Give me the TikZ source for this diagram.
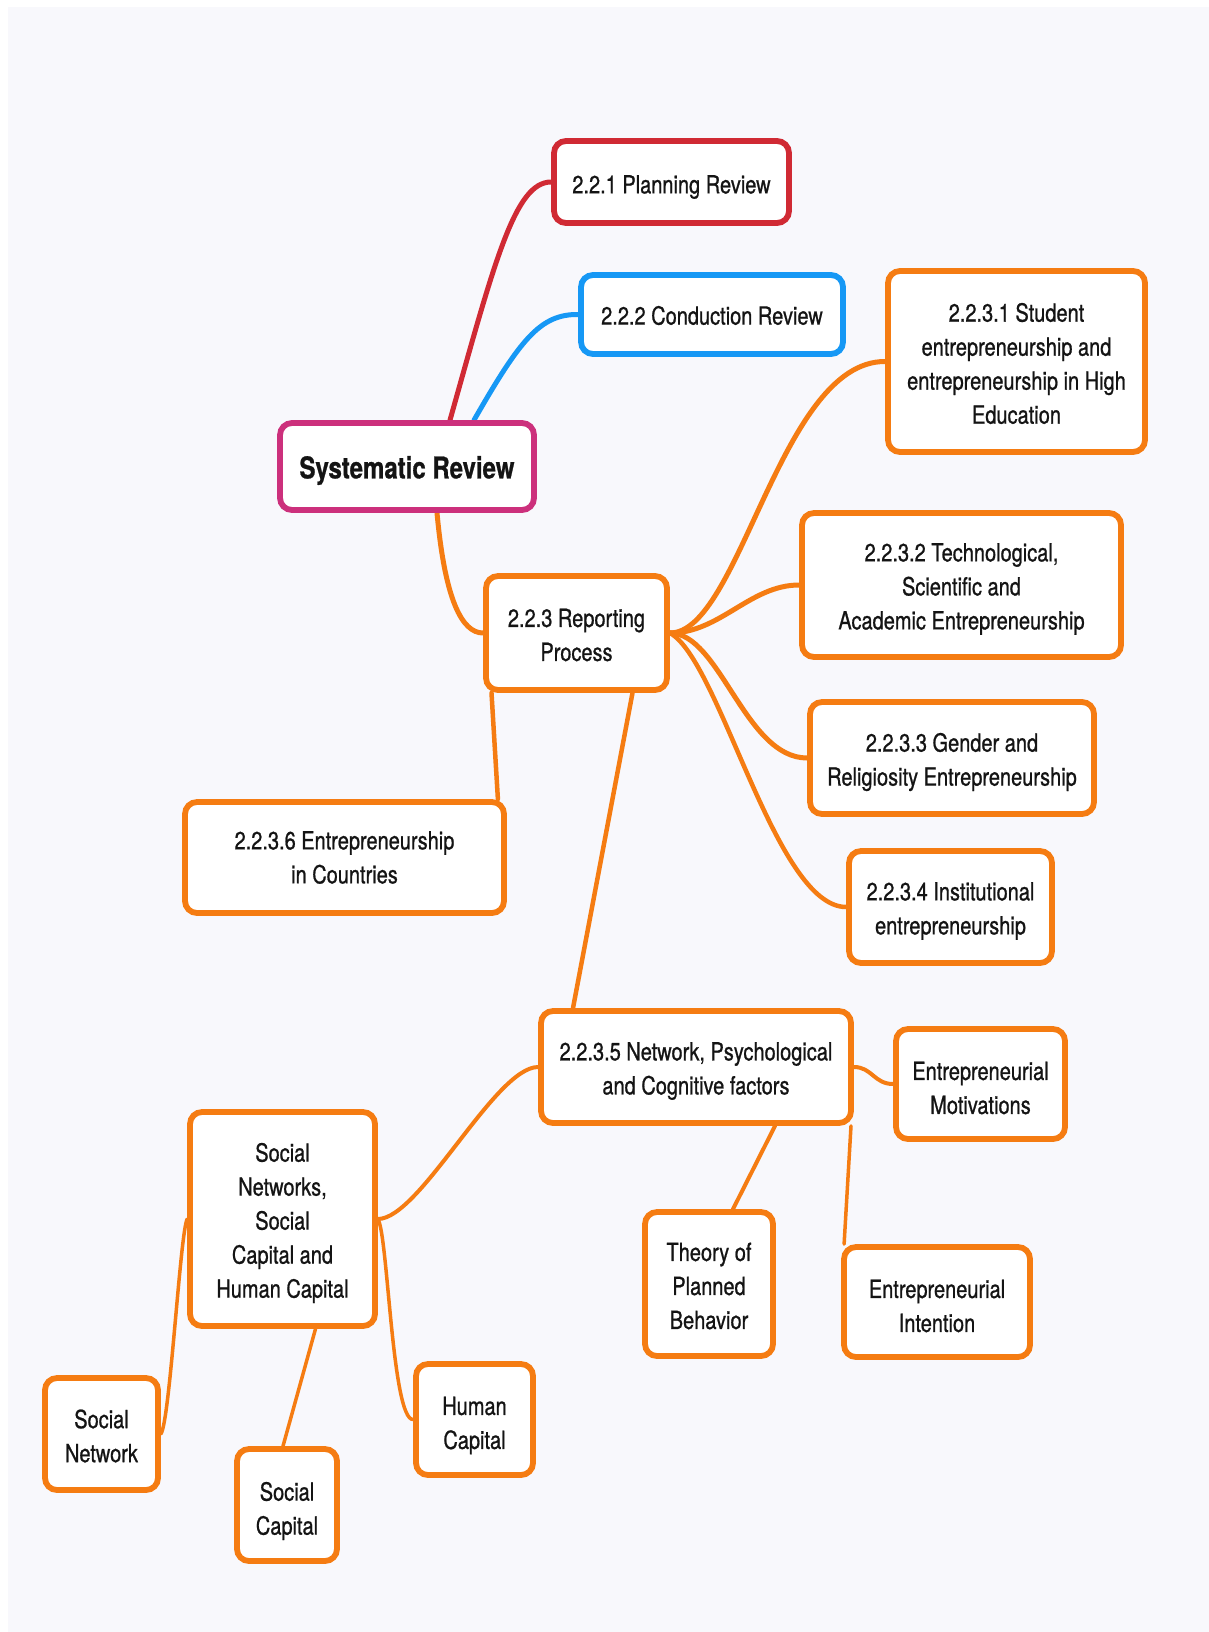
\documentclass[tikz,border=0pt]{standalone}
\usepackage{fontspec}
\setmainfont{TeX Gyre Heros}[FakeStretch=0.8,FakeBold=0.8]
\usetikzlibrary{calc}
\definecolor{bgc}{RGB}{248,248,252}
\definecolor{org}{RGB}{245,124,18}
\definecolor{redc}{RGB}{208,42,52}
\definecolor{bluec}{RGB}{22,152,245}
\definecolor{magc}{RGB}{204,48,124}
\definecolor{txt}{RGB}{20,20,20}
\pgfdeclarelayer{back}
\pgfdeclarelayer{bg}
\pgfsetlayers{back,bg,main}
\tikzset{
  box/.style={draw=org, fill=white, line width=5.8pt, rounded corners=12pt, inner sep=0pt},
  lbl/.style={align=center, text=txt, inner sep=0pt, font=\fontsize{25}{34}\selectfont},
  conn/.style={draw=org, line width=5pt, line cap=round},
  thinconn/.style={draw=org, line width=3.5pt, line cap=round},
}
\begin{document}
\begin{tikzpicture}[x=1pt,y=-1pt]
\useasboundingbox (0,0) rectangle (1209,1632);
\begin{pgfonlayer}{back}
\fill[white] (0,0) rectangle (1209,1632);
\fill[bgc] (8,7) rectangle (1209,1632);
\end{pgfonlayer}

% boxes
\node[box, draw=redc, minimum width=235, minimum height=82] (plan) at (671.5,182) {};
\node[box, draw=bluec, minimum width=262, minimum height=79] (cond) at (712,314.5) {};
\node[box, draw=magc, minimum width=254, minimum height=87] (sys) at (407,466.5) {};
\node[box, minimum width=181, minimum height=114] (rp) at (576.5,633) {};
\node[box, minimum width=257, minimum height=181] (c1) at (1016.5,361.5) {};
\node[box, minimum width=319, minimum height=144] (c2) at (961.5,585) {};
\node[box, minimum width=284, minimum height=112] (c3) at (952,758) {};
\node[box, minimum width=203, minimum height=112] (c4) at (950.5,907) {};
\node[box, minimum width=319, minimum height=111] (c6) at (344.5,857.5) {};
\node[box, minimum width=310, minimum height=112] (c5) at (696,1067) {};
\node[box, minimum width=169, minimum height=110] (em) at (980.5,1084) {};
\node[box, minimum width=185, minimum height=214] (sn) at (282.5,1219) {};
\node[box, minimum width=128, minimum height=144] (tpb) at (709,1284) {};
\node[box, minimum width=186, minimum height=110] (ei) at (937,1302) {};
\node[box, minimum width=113, minimum height=112] (snet) at (101.5,1434) {};
\node[box, minimum width=100, minimum height=112] (scap) at (287,1505) {};
\node[box, minimum width=117, minimum height=111] (hc) at (474.5,1419.5) {};

% texts
\node[lbl] (planT) at ([yshift=-5pt]plan.center) {2.2.1 Planning Review};
\node[lbl] (condT) at ([yshift=-1pt]cond.center) {2.2.2 Conduction Review};
\node[lbl, font=\fontsize{30}{36}\bfseries\selectfont] (sysT) at ([yshift=-4pt]sys.center) {Systematic Review};
\node[lbl] (rpT) at ([yshift=-2pt]rp.center) {2.2.3 Reporting\\Process};
\node[lbl] (c1T) at ([yshift=-2pt]c1.center) {2.2.3.1 Student\\entrepreneurship and\\entrepreneurship in High\\Education};
\node[lbl] (c2T) at ([yshift=-4pt]c2.center) {2.2.3.2 Technological,\\Scientific and\\Academic Entrepreneurship};
\node[lbl] (c3T) at ([yshift=-4pt]c3.center) {2.2.3.3 Gender and\\Religiosity Entrepreneurship};
\node[lbl] (c4T) at ([yshift=-4pt]c4.center) {2.2.3.4 Institutional\\entrepreneurship};
\node[lbl] (c6T) at ([yshift=0pt]c6.center) {2.2.3.6 Entrepreneurship\\in Countries};
\node[lbl] (c5T) at ([yshift=-4pt]c5.center) {2.2.3.5 Network, Psychological\\and Cognitive factors};
\node[lbl] (emT) at ([yshift=-4pt]em.center) {Entrepreneurial\\Motivations};
\node[lbl] (snT) at ([yshift=-4pt]sn.center) {Social\\Networks,\\Social\\Capital and\\Human Capital};
\node[lbl] (tpbT) at ([yshift=-2pt]tpb.center) {Theory of\\Planned\\Behavior};
\node[lbl] (eiT) at ([yshift=-4pt]ei.center) {Entrepreneurial\\Intention};
\node[lbl] (snetT) at ([yshift=-2pt]snet.center) {Social\\Network};
\node[lbl] (scapT) at ([yshift=-6pt]scap.center) {Social\\Capital};
\node[lbl] (hcT) at ([yshift=-6pt]hc.center) {Human\\Capital};

% connectors
\begin{pgfonlayer}{bg}
\draw[conn, draw=redc] ($(sys.north)+(43,0)$) .. controls (495,260) and (515,182) .. (plan.west);
\draw[conn, draw=bluec] ($(sys.north)+(67,0)$) .. controls (520,340) and (540,314) .. (cond.west);
\draw[conn] ($(sys.south)+(30,0)$) .. controls (445,600) and (462,633) .. (rp.west);
\draw[conn] (rp.east) .. controls (740,633) and (780,361) .. (c1.west);
\draw[conn] (rp.east) .. controls (720,633) and (750,585) .. (c2.west);
\draw[conn] (rp.east) .. controls (720,633) and (745,758) .. (c3.west);
\draw[conn, line width=4.5pt] (rp.east) .. controls (720,660) and (775,907) .. (c4.west);
\draw[conn, line width=4.5pt] ($(rp.south)+(-85,0)$) -- ($(c6.north east)+(-9,0)$);
\draw[conn, line width=4.5pt] ($(rp.south)+(56,0)$) -- ($(c5.north)+(-123,0)$);
\draw[conn, line width=4pt] (c5.west) .. controls (495,1067) and (420,1219) .. (sn.east);
\draw[conn, line width=4pt] (c5.east) .. controls (872,1067) and (874,1084) .. (em.west);
\draw[conn, line width=4pt] ($(c5.south)+(79,0)$) -- ($(tpb.north)+(24,0)$);
\draw[thinconn] ($(c5.south)+(155,0)$) -- ($(ei.north west)+(3,0)$);
\draw[thinconn] (sn.west) .. controls (180,1235) and (170,1420) .. (snet.east);
\draw[thinconn] ($(sn.south)+(33,0)$) -- ($(scap.north)+(-4,0)$);
\draw[thinconn] (sn.east) .. controls (388,1235) and (392,1420) .. (hc.west);
\end{pgfonlayer}
\end{tikzpicture}
\end{document}
